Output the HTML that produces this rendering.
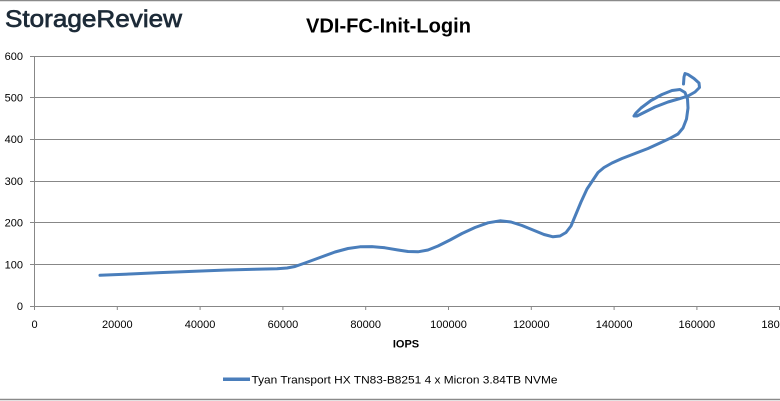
<!DOCTYPE html>
<html>
<head>
<meta charset="utf-8">
<style>
  html, body { margin: 0; padding: 0; background: #ffffff; }
  svg { display: block; }
  text { font-family: "Liberation Sans", sans-serif; }
</style>
</head>
<body>
<svg width="780" height="401" viewBox="0 0 780 401" xmlns="http://www.w3.org/2000/svg">
  <rect x="0" y="0" width="780" height="401" fill="#ffffff"/>
  <!-- outer borders -->
  <line x1="0" y1="0.5" x2="780" y2="0.5" stroke="#8a8a8a" stroke-width="1.5"/>
  <line x1="0" y1="399.5" x2="780" y2="399.5" stroke="#8a8a8a" stroke-width="1.5"/>

  <!-- logo -->
  <text x="5" y="27" font-size="24" fill="#1d2b38" stroke="#1d2b38" stroke-width="0.7" textLength="177" lengthAdjust="spacingAndGlyphs">StorageReview</text>
  <!-- title -->
  <text x="306" y="32.5" font-size="20.5" font-weight="bold" fill="#000" textLength="165" lengthAdjust="spacingAndGlyphs">VDI-FC-Init-Login</text>

  <!-- gridlines -->
  <g stroke="#878787" stroke-width="1">
    <line x1="30" y1="56.5" x2="780" y2="56.5"/>
    <line x1="30" y1="97.5" x2="780" y2="97.5"/>
    <line x1="30" y1="139.5" x2="780" y2="139.5"/>
    <line x1="30" y1="181.5" x2="780" y2="181.5"/>
    <line x1="30" y1="222.5" x2="780" y2="222.5"/>
    <line x1="30" y1="264.5" x2="780" y2="264.5"/>
    <line x1="30" y1="306.5" x2="780" y2="306.5"/>
    <!-- y axis -->
    <line x1="34.5" y1="56" x2="34.5" y2="310"/>
    <!-- x ticks -->
    <line x1="117.3" y1="306" x2="117.3" y2="310"/>
    <line x1="200.1" y1="306" x2="200.1" y2="310"/>
    <line x1="282.9" y1="306" x2="282.9" y2="310"/>
    <line x1="365.7" y1="306" x2="365.7" y2="310"/>
    <line x1="448.5" y1="306" x2="448.5" y2="310"/>
    <line x1="531.3" y1="306" x2="531.3" y2="310"/>
    <line x1="614.1" y1="306" x2="614.1" y2="310"/>
    <line x1="696.9" y1="306" x2="696.9" y2="310"/>
    <line x1="779.5" y1="306" x2="779.5" y2="310"/>
  </g>

  <!-- y labels -->
  <g font-size="11" fill="#000" text-anchor="end">
    <text x="23" y="60">600</text>
    <text x="23" y="101.5">500</text>
    <text x="23" y="143">400</text>
    <text x="23" y="185">300</text>
    <text x="23" y="226.5">200</text>
    <text x="23" y="268.5">100</text>
    <text x="23" y="310">0</text>
  </g>

  <!-- x labels -->
  <g font-size="11" fill="#000" text-anchor="middle">
    <text x="34.5" y="328">0</text>
    <text x="117.3" y="328">20000</text>
    <text x="200.1" y="328">40000</text>
    <text x="282.9" y="328">60000</text>
    <text x="365.7" y="328">80000</text>
    <text x="448.5" y="328">100000</text>
    <text x="531.3" y="328">120000</text>
    <text x="614.1" y="328">140000</text>
    <text x="696.9" y="328">160000</text>
    <text x="779.7" y="328">180000</text>
  </g>

  <!-- axis title -->
  <text x="406" y="347.5" font-size="11" font-weight="bold" text-anchor="middle" fill="#000">IOPS</text>

  <!-- series -->
  <polyline fill="none" stroke="#4a7ebb" stroke-width="3" stroke-linejoin="round" stroke-linecap="round"
    points="100,275.3 130,274 160,272.6 195,271.2 227,270 255,269.3 277,268.8 287,268 295,266.5 305,263 320,257.5 335,252 348,248.5 360,246.8 372,246.6 385,247.8 398,250 408,251.5 418,251.8 428,250 438,246 450,240 462,233.5 475,227.5 488,222.8 500,220.8 511,222 522,225.5 533,230 544,234.5 553,236.8 560,236 566,232.5 571,226 576,214 581,202 587,189 593,180 598,172.5 604,167.5 612,163 622,158.5 635,153.5 648,148.5 660,143 670,138.3 678,134 683,128 686.5,119 688,108 687.5,99 685,92.5 680,89.5 672,90.5 662,94.5 651,100.5 641,108 636,113 634,116 637,116 645,112 655,107 668,102 680,98.5 688,96 695,92 699.5,87.5 699,83 694,78.5 688,74.5 685,73.5 684,77 683.5,84"/>

  <!-- legend -->
  <line x1="223" y1="379.3" x2="250" y2="379.3" stroke="#4a7ebb" stroke-width="3.5"/>
  <text x="251.5" y="383.5" font-size="11" fill="#000" textLength="306" lengthAdjust="spacingAndGlyphs">Tyan Transport HX TN83-B8251 4 x Micron 3.84TB NVMe</text>
</svg>
</body>
</html>
